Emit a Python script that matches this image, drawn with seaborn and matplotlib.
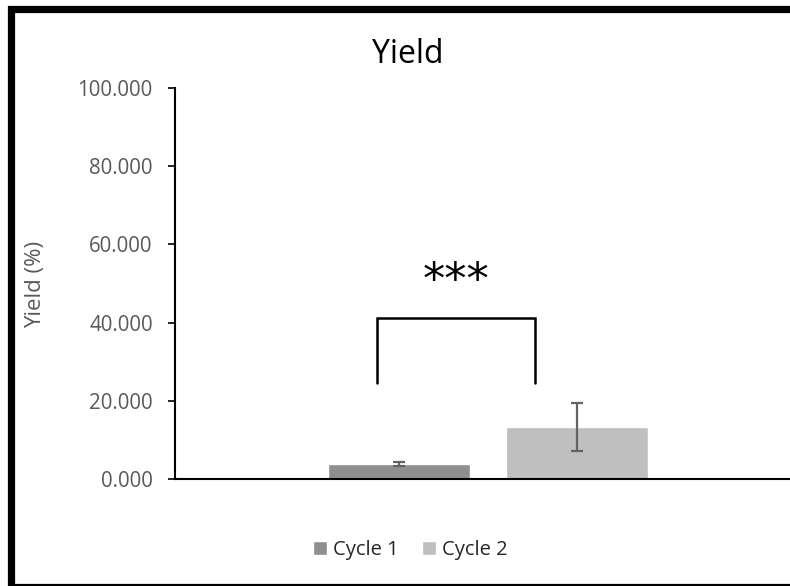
import matplotlib
matplotlib.use("Agg")
import matplotlib.pyplot as plt
from matplotlib.patches import Rectangle
import pandas as pd
import seaborn as sns

# Chart data
groups = ["", ""]
cycles = ["Cycle 1", "Cycle 2"]
yield_mean = [3.9, 13.3]
yield_err = [0.5, 6.2]
y_ticks = [0, 20, 40, 60, 80, 100]
significance = "***"

df = pd.DataFrame({"group": groups, "cycle": cycles, "yield": yield_mean})

sns.set_theme(style="white")
plt.rcParams["font.family"] = ["Open Sans", "DejaVu Sans"]

fig = plt.figure(figsize=(7.9, 5.86), dpi=100)
W, H = 790, 586
ax = fig.add_axes([175 / W, 107 / H, 626 / W, 391 / H])

bar_colors = ["#8f8f8f", "#bfbfbf"]
sns.barplot(data=df, x="group", y="yield", hue="cycle", palette=bar_colors,
            gap=0.2, errorbar=None, ax=ax, legend=True, saturation=1)

# Error bars at the centre of each drawn bar
bars = [p for p in ax.patches if p.get_height() > 0]
for bar, m, e in zip(bars, yield_mean, yield_err):
    cx = bar.get_x() + bar.get_width() / 2
    ax.errorbar(cx, m, yerr=e, fmt="none", ecolor="#636363",
                elinewidth=1.6, capsize=4.4, capthick=1.6, zorder=5)

ax.set_xlim(-0.705, 0.705)
ax.set_ylim(0, 100)
ax.set_yticks(y_ticks)
ax.set_yticklabels([f"{t:.3f}" for t in y_ticks])
ax.tick_params(axis="y", which="both", left=True, length=5, width=1.2,
               color="black", labelsize=14.8, labelcolor="#595959", pad=11)
ax.tick_params(axis="x", bottom=False, labelbottom=False)
ax.set_xlabel("")
ax.set_ylabel("")

for side in ["top", "right"]:
    ax.spines[side].set_visible(False)
for side in ["left", "bottom"]:
    ax.spines[side].set_color("black")
    ax.spines[side].set_linewidth(1.5)

# Significance bracket between the two cycles
br_left, br_right, br_low, br_top = -0.25, 0.106, 24.6, 41.3
ax.plot([br_left, br_left, br_right, br_right], [br_low, br_top, br_top, br_low],
        color="black", lw=1.8, solid_joinstyle="miter", clip_on=False)
ax.text((br_left + br_right) / 2, 50.6, significance, ha="center", va="center",
        fontsize=32, family="DejaVu Sans", color="black")

fig.text(36 / W, 1 - 284 / H, "Yield (%)", rotation=90, ha="center",
         va="center", fontsize=16, color="#595959")
fig.text(408 / W, 1 - 63 / H, "Yield", ha="center", va="baseline",
         fontsize=23, color="black")

handles, labels = ax.get_legend_handles_labels()
ax.get_legend().remove()
fig.legend(handles, labels, loc="center", bbox_to_anchor=(410 / W, 1 - 550 / H),
           ncol=2, frameon=False, fontsize=14.5, handlelength=0.7,
           handleheight=0.7, handletextpad=0.3, columnspacing=1.15)

# Chart frame
fig.patches.append(Rectangle((11 / W, -1 / H), (800 - 11) / W, (587 - 9) / H,
                             transform=fig.transFigure, fill=False,
                             edgecolor="black", linewidth=5.2, clip_on=False))

fig.savefig("out.png", dpi=100)
